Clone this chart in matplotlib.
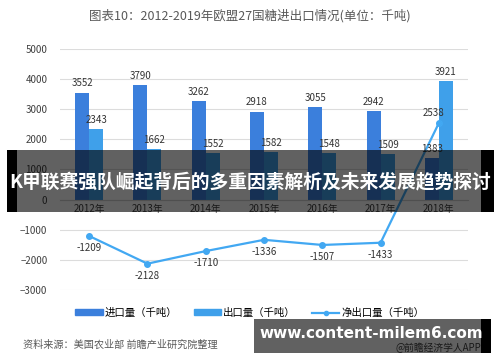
import matplotlib
matplotlib.use('Agg')
import matplotlib.pyplot as plt
from matplotlib.patches import Rectangle, Patch
from matplotlib.lines import Line2D
import numpy as np

plt.rcParams['font.family'] = ['Noto Sans CJK SC', 'DejaVu Sans']

years = ['2012年', '2013年', '2014年', '2015年', '2016年', '2017年', '2018年']
imports = [3552, 3790, 3262, 2918, 3055, 2942, 1383]
exports = [2343, 1662, 1552, 1582, 1548, 1509, 3921]
net = [-1209, -2128, -1710, -1336, -1507, -1433, 2538]

c_imp = '#3b7fdc'
c_exp = '#3fa0ea'
c_net = '#42a8f2'

fig = plt.figure(figsize=(5.0, 3.62), dpi=100)
ax = fig.add_axes([0.12, 0.199, 0.816, 0.666])

x = np.arange(len(years))
w = 0.24
ax.bar(x - w / 2, imports, w, color=c_imp, zorder=2)
ax.bar(x + w / 2, exports, w, color=c_exp, zorder=2)
ax.plot(x, net, color=c_net, lw=1.6, marker='o', ms=4, zorder=3)

for i in range(len(years)):
    ax.annotate(str(imports[i]), (x[i] - w / 2, imports[i]), xytext=(0, 3),
                textcoords='offset points', ha='center', va='bottom', fontsize=7, color='#333333')
    ax.annotate(str(exports[i]), (x[i] + w / 2, exports[i]), xytext=(0, 3),
                textcoords='offset points', ha='center', va='bottom', fontsize=7, color='#333333')
    if net[i] > 0:
        ax.annotate(str(net[i]), (x[i], net[i]), xytext=(-4, 4),
                    textcoords='offset points', ha='center', va='bottom', fontsize=7, color='#333333')
    else:
        ax.annotate(str(net[i]), (x[i], net[i]), xytext=(0, -5),
                    textcoords='offset points', ha='center', va='top', fontsize=7, color='#333333')

ax.set_ylim(-3000, 5000)
ax.set_xlim(-0.5, len(years) - 0.5)
ax.set_yticks(range(-3000, 5001, 1000))
ax.tick_params(axis='y', length=0, labelsize=7, labelcolor='#404040', pad=9)
ax.set_xticks(x)
ax.set_xticklabels(years)
ax.tick_params(axis='x', length=0, labelsize=7, labelcolor='#404040', pad=3)
ax.grid(axis='y', color='#dcdcdc', lw=0.8, zorder=0)
for s in ['top', 'right', 'left']:
    ax.spines[s].set_visible(False)
ax.spines['bottom'].set_position(('data', 0))
ax.spines['bottom'].set_color('#d0d0d0')

fig.text(0.5, 0.957, '图表10：2012-2019年欧盟27国糖进出口情况(单位：千吨)',
         ha='center', va='center', fontsize=9, color='#595959')

handles = [Patch(color=c_imp), Patch(color=c_exp),
           Line2D([0], [0], color=c_net, lw=1.6, marker='o', ms=3)]
fig.legend(handles, ['进口量（千吨）', '出口量（千吨）', '净出口量（千吨）'],
           loc='center', bbox_to_anchor=(0.5, 0.135), ncol=3, frameon=False,
           fontsize=7.5, handlelength=2.6, handleheight=0.5, columnspacing=1.6,
           handletextpad=0.2)

fig.text(0.046, 0.047, '资料来源：美国农业部 前瞻产业研究院整理', ha='left', va='center',
         fontsize=7.3, color='#595959', style='italic')
fig.text(0.962, 0.04, '@前瞻经济学人APP', ha='right', va='center', fontsize=7, color='#404040')

# overlay banner
fig.patches.append(Rectangle((0.014, 0.414), 0.974, 0.171, transform=fig.transFigure,
                             facecolor='black', alpha=0.62, zorder=5))
fig.patches.append(Rectangle((0.014, 0.414), 0.02, 0.171, transform=fig.transFigure,
                             facecolor='black', zorder=5))
fig.patches.append(Rectangle((0.962, 0.414), 0.026, 0.171, transform=fig.transFigure,
                             facecolor='black', zorder=5))
fig.text(0.5, 0.497, 'K甲联赛强队崛起背后的多重因素解析及未来发展趋势探讨', ha='center', va='center',
         fontsize=13.5, color='white', weight='bold', zorder=6)

# url box
fig.patches.append(Rectangle((0.508, 0.025), 0.454, 0.094, transform=fig.transFigure,
                             facecolor='black', alpha=0.62, zorder=5))
fig.patches.append(Rectangle((0.962, 0.025), 0.02, 0.094, transform=fig.transFigure,
                             facecolor='black', zorder=5))
fig.text(0.742, 0.078, 'www.content-milem6.com', ha='center', va='center',
         fontsize=11, color='white', weight='bold', zorder=6, family='DejaVu Sans')

fig.savefig('out.png', dpi=100)
